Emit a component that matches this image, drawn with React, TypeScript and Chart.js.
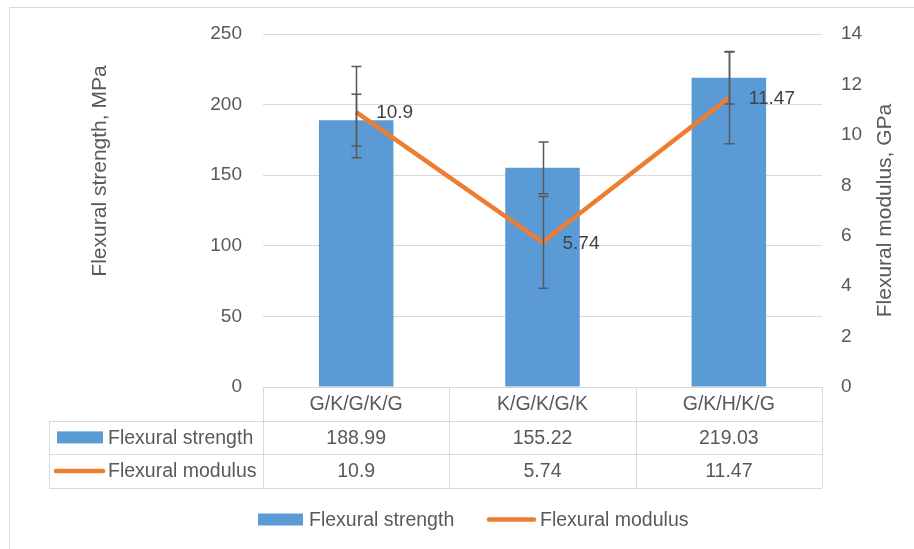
import React, { useEffect, useRef } from "react";
import { Chart, registerables } from "chart.js";

Chart.register(...registerables);

const categories = ["G/K/G/K/G", "K/G/K/G/K", "G/K/H/K/G"];
const strengthValues = [188.99, 155.22, 219.03];
const modulusValues = [10.9, 5.74, 11.47];
const strengthErrors = [18.3, 18.3, 18.6];
const modulusErrors = [1.81, 1.82, 1.82];
const strengthTableLabels = ["188.99", "155.22", "219.03"];
const modulusTableLabels = ["10.9", "5.74", "11.47"];
const strengthAxis = { min: 0, max: 250, step: 50 };
const modulusAxis = { min: 0, max: 14, step: 2 };

const FONT = '"Liberation Sans", Arial, sans-serif';
const TEXT = "#595959";
const LINE_GRAY = "#d9d9d9";
const BLUE = "#5B9BD5";
const ORANGE = "#ED7D31";

const extrasPlugin = {
  id: "excelExtras",
  beforeDraw(chart: any) {
    const ctx = chart.ctx;
    ctx.save();
    ctx.strokeStyle = LINE_GRAY;
    ctx.lineWidth = 1;
    ctx.strokeRect(9.5, 7.5, 2000, 2000);
    ctx.restore();
  },
  afterDatasetsDraw(chart: any) {
    const ctx = chart.ctx;
    const errs = [strengthErrors, modulusErrors];
    ctx.save();
    ctx.strokeStyle = "#595959";
    ctx.lineWidth = 1.5;
    chart.data.datasets.forEach((ds: any, i: number) => {
      const meta = chart.getDatasetMeta(i);
      const yScale = chart.scales[ds.yAxisID];
      meta.data.forEach((el: any, j: number) => {
        const v = ds.data[j];
        const e = errs[i][j];
        const x = Math.round(el.x) + 0.5;
        const yT = yScale.getPixelForValue(v + e);
        const yB = yScale.getPixelForValue(v - e);
        ctx.beginPath();
        ctx.moveTo(x, yT);
        ctx.lineTo(x, yB);
        ctx.moveTo(x - 5, yT);
        ctx.lineTo(x + 5, yT);
        ctx.moveTo(x - 5, yB);
        ctx.lineTo(x + 5, yB);
        ctx.stroke();
      });
    });
    // data labels for modulus line
    const meta = chart.getDatasetMeta(1);
    ctx.fillStyle = "#404040";
    ctx.font = `19px ${FONT}`;
    ctx.textAlign = "left";
    ctx.textBaseline = "middle";
    meta.data.forEach((el: any, j: number) => {
      ctx.fillText(String(modulusValues[j]), el.x + 20, el.y + 1);
    });
    ctx.restore();
  },
  afterDraw(chart: any) {
    const ctx = chart.ctx;
    const area = chart.chartArea;
    const xs = chart.scales.x;
    const catW = xs.getPixelForValue(1) - xs.getPixelForValue(0);
    const rowH = 33.6;
    const top = area.bottom;
    const tableLeft = area.left - 214;
    ctx.save();
    ctx.strokeStyle = LINE_GRAY;
    ctx.lineWidth = 1;
    const hline = (x1: number, x2: number, y: number) => {
      ctx.beginPath();
      ctx.moveTo(x1, Math.round(y) + 0.5);
      ctx.lineTo(x2, Math.round(y) + 0.5);
      ctx.stroke();
    };
    const vline = (x: number, y1: number, y2: number) => {
      ctx.beginPath();
      ctx.moveTo(Math.round(x) + 0.5, y1);
      ctx.lineTo(Math.round(x) + 0.5, y2);
      ctx.stroke();
    };
    hline(area.left, area.right, top);
    hline(tableLeft, area.right, top + rowH);
    hline(tableLeft, area.right, top + 2 * rowH);
    hline(tableLeft, area.right, top + 3 * rowH);
    for (let i = 0; i <= categories.length; i++) {
      const x = xs.getPixelForValue(0) - catW / 2 + i * catW;
      vline(x, top, top + 3 * rowH);
    }
    vline(tableLeft, top + rowH, top + 3 * rowH);

    ctx.fillStyle = TEXT;
    ctx.font = `19.5px ${FONT}`;
    ctx.textBaseline = "middle";
    ctx.textAlign = "center";
    categories.forEach((c, i) => {
      const cx = xs.getPixelForValue(i);
      ctx.fillText(c, cx, top + rowH / 2 + 1);
      ctx.fillText(strengthTableLabels[i], cx, top + rowH * 1.5 + 1);
      ctx.fillText(modulusTableLabels[i], cx, top + rowH * 2.5 + 1);
    });
    const ds0 = chart.data.datasets[0];
    const ds1 = chart.data.datasets[1];
    // row keys
    const r1 = top + rowH * 1.5;
    const r2 = top + rowH * 2.5;
    ctx.fillStyle = BLUE;
    ctx.fillRect(tableLeft + 8, r1 - 6, 46, 12);
    ctx.strokeStyle = ORANGE;
    ctx.lineWidth = 4.5;
    ctx.lineCap = "round";
    ctx.beginPath();
    ctx.moveTo(tableLeft + 7, r2);
    ctx.lineTo(tableLeft + 54, r2);
    ctx.stroke();
    ctx.fillStyle = TEXT;
    ctx.textAlign = "left";
    ctx.fillText(ds0.label, tableLeft + 59, r1 + 1);
    ctx.fillText(ds1.label, tableLeft + 59, r2 + 1);

    // bottom legend
    const ly = 519.5;
    ctx.fillStyle = BLUE;
    ctx.fillRect(258, ly - 6, 45, 12);
    ctx.beginPath();
    ctx.moveTo(489, ly);
    ctx.lineTo(534, ly);
    ctx.stroke();
    ctx.fillStyle = TEXT;
    ctx.fillText(ds0.label, 309, ly + 1);
    ctx.fillText(ds1.label, 540, ly + 1);

    // axis titles
    ctx.font = `21px ${FONT}`;
    ctx.textAlign = "center";
    ctx.save();
    ctx.translate(area.left - 163, area.top + 137);
    ctx.rotate(-Math.PI / 2);
    ctx.fillText("Flexural strength, MPa", 0, 0);
    ctx.restore();
    ctx.save();
    ctx.translate(area.right + 63, (area.top + area.bottom) / 2);
    ctx.rotate(-Math.PI / 2);
    ctx.fillText("Flexural modulus, GPa", 0, 0);
    ctx.restore();
    ctx.restore();
  },
};

export default function App() {
  const ref = useRef<HTMLCanvasElement | null>(null);
  useEffect(() => {
    document.body.style.margin = "0";
    if (!ref.current) return;
    const chart = new Chart(ref.current, {
      type: "bar",
      data: {
        labels: categories,
        datasets: [
          {
            type: "bar",
            label: "Flexural strength",
            data: strengthValues,
            backgroundColor: BLUE,
            yAxisID: "y",
            barPercentage: 0.4,
            categoryPercentage: 1,
            order: 2,
          },
          {
            type: "line",
            label: "Flexural modulus",
            data: modulusValues,
            borderColor: ORANGE,
            backgroundColor: ORANGE,
            borderWidth: 4.5,
            pointRadius: 0,
            tension: 0,
            yAxisID: "y1",
            order: 1,
          } as any,
        ],
      },
      options: {
        responsive: false,
        animation: false,
        devicePixelRatio: 1,
        layout: { padding: { top: 34, left: 0, right: 0, bottom: 0 } },
        plugins: { legend: { display: false }, tooltip: { enabled: false } },
        scales: {
          x: {
            grid: { display: false },
            border: { display: false },
            ticks: { display: false },
            afterFit: (s: any) => {
              s.height = 162;
            },
          },
          y: {
            position: "left",
            min: strengthAxis.min,
            max: strengthAxis.max,
            ticks: {
              stepSize: strengthAxis.step,
              color: TEXT,
              font: { family: FONT, size: 19 },
              padding: 21,
            },
            grid: { color: LINE_GRAY, lineWidth: 1, drawTicks: false },
            border: { display: false },
            afterFit: (s: any) => {
              s.width = 263;
            },
          },
          y1: {
            position: "right",
            min: modulusAxis.min,
            max: modulusAxis.max,
            ticks: {
              stepSize: modulusAxis.step,
              color: TEXT,
              font: { family: FONT, size: 19 },
              padding: 19,
            },
            grid: { display: false, drawTicks: false },
            border: { display: false },
            afterFit: (s: any) => {
              s.width = 92;
            },
          },
        },
      },
      plugins: [extrasPlugin],
    });
    return () => chart.destroy();
  }, []);
  return (
    <div style={{ width: 914, height: 549, background: "#fff" }}>
      <canvas ref={ref} width={914} height={549} style={{ display: "block" }} />
    </div>
  );
}
